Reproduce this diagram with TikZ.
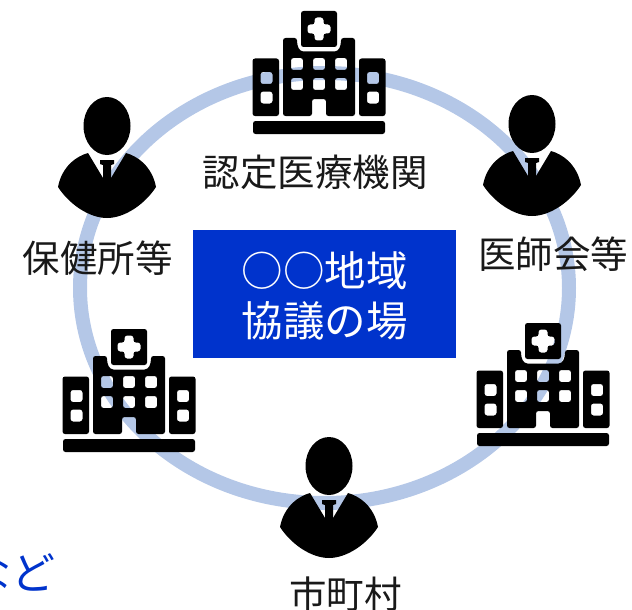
\documentclass[tikz,border=0pt]{standalone}
\usepackage{fontspec}
\setmainfont{Noto Sans CJK JP}
\definecolor{ringblue}{HTML}{B4C7E7}
\definecolor{boxblue}{HTML}{0033CC}
\tikzset{
	label/.style={font=\fontsize{37.5}{37.5}\selectfont, text=black!90, inner sep=0pt},
	titlebox/.style={fill=boxblue, minimum width=263, minimum height=128, inner sep=0pt},
	title/.style={text=white, font=\fontsize{41.5}{50}\selectfont, align=center, inner sep=0pt},
	icon/.style={fill=black, even odd rule, rounded corners=2.5pt},
	hospital/.pic={
		% cross box
		\fill[icon] (-18,0) rectangle (18,36)
			(-4.5,6.5) -- (4.5,6.5) -- (4.5,13.5) -- (11.5,13.5) -- (11.5,22.5) -- (4.5,22.5) -- (4.5,29.5) -- (-4.5,29.5) -- (-4.5,22.5) -- (-11.5,22.5) -- (-11.5,13.5) -- (-4.5,13.5) -- cycle;
		% main block
		\fill[icon] (-36,105) -- (-36,27) -- (-22,27) .. controls (-22,35) and (-20,40.5) .. (-13,40.5) -- (13,40.5) .. controls (20,40.5) and (22,35) .. (22,27) -- (36,27) -- (36,105) -- (7,105) -- (7,88) -- (-7,88) -- (-7,105) -- cycle
			\foreach \wx in {-28,-6,16} {
				(\wx,47) rectangle +(12,12)
				(\wx,67) rectangle +(12,12)
			};
		% wings
		\foreach \wx in {-66.5,40} {
			\fill[icon] (\wx,47.5) rectangle +(26.5,57.5)
				(\wx+8,61) rectangle +(12,12)
				(\wx+8,80.5) rectangle +(12,12);
		}
		\fill[icon] (-66,110) rectangle (66,123);
	},
	person/.pic={
		\fill (0,0) ellipse [x radius=23.5, y radius=29];
		\fill (-19,27) -- (-4,52) -- (4,52) -- (19,27) .. controls (30,30) and (45,40) .. (49,61)
			.. controls (38,78) and (18,92) .. (0,92) .. controls (-18,92) and (-38,78) .. (-49,61)
			.. controls (-45,40) and (-30,30) .. cycle;
		\fill (-7,34) -- (7,34) -- (7,38) -- (4,39) -- (4,52) -- (-4,52) -- (-4,39) -- (-7,38) -- cycle;
	}
}
\begin{document}
\begin{tikzpicture}[x=1pt,y=-1pt]
	\clip (0,0) rectangle (632,610);

	\draw[ringblue, line width=14] (324.5,288) ellipse [x radius=244.5, y radius=215];

	\pic at (319,11) {hospital};
	\pic at (129,329) {hospital};
	\pic at (543,323) {hospital};

	\pic at (107,126) {person};
	\pic at (532,124) {person};
	\pic at (329,466) {person};

	\node[titlebox] (kyobox) at (324.5,294) {};
	\node[title] (kyogi) at (324.5,296) {○○地域\\協議の場};

	\node[label] (nintei) at (315,172) {認定医療機関};
	\node[label] (hoken) at (98,258) {保健所等};
	\node[label] (ishikai) at (553,254) {医師会等};
	\node[label] (shicho) at (345.5,594) {市町村};
	\node[label, font=\fontsize{44}{44}\selectfont, text=boxblue] (nado) at (12,573) {など};
\end{tikzpicture}
\end{document}
